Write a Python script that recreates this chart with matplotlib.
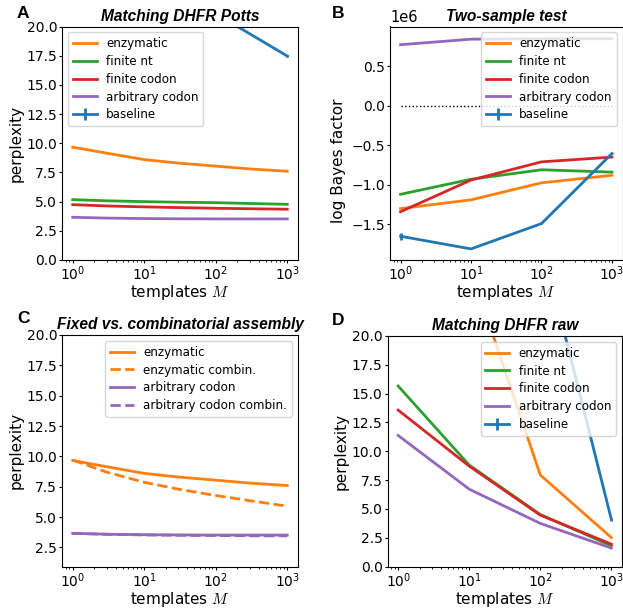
import matplotlib
matplotlib.use("Agg")
import matplotlib.pyplot as plt
import numpy as np

plt.rcParams['mathtext.fontset'] = 'custom'
plt.rcParams['mathtext.rm'] = 'DejaVu Sans'
plt.rcParams['mathtext.it'] = 'cmmi10'
plt.rcParams['mathtext.bf'] = 'DejaVu Sans:bold'

C_ENZ = '#ff7f0e'
C_NT = '#2ca02c'
C_COD = '#d62728'
C_ARB = '#9467bd'
C_BASE = '#1f77b4'

# ---- Panel A: Matching DHFR Potts ----
M_fine = [1, 3, 10, 30, 100, 300, 1000]
A_enzymatic = [9.66, 9.15, 8.6, 8.3, 8.04, 7.8, 7.6]
A_finite_nt = [5.17, 5.07, 5.0, 4.95, 4.91, 4.84, 4.77]
A_finite_codon = [4.74, 4.63, 4.55, 4.49, 4.43, 4.39, 4.35]
A_arbitrary = [3.66, 3.59, 3.55, 3.53, 3.52, 3.52, 3.52]
M_dec = [1, 10, 100, 1000]
A_baseline = [40.0, 28.0, 21.1, 17.47]
A_baseline_err = [0.3, 0.3, 0.2, 0.1]

# ---- Panel B: Two-sample test (log Bayes factor, x1e6) ----
B_enzymatic = [-1.30, -1.19, -0.975, -0.88]
B_finite_nt = [-1.12, -0.93, -0.81, -0.84]
B_finite_codon = [-1.34, -0.94, -0.71, -0.65]
B_arbitrary = [0.77, 0.84, 0.845, 0.845]
B_baseline = [-1.65, -1.81, -1.49, -0.605]
B_baseline_err = [0.045, 0.005, 0.005, 0.005]

# ---- Panel C: Fixed vs combinatorial ----
C_enzymatic = A_enzymatic
C_enzymatic_comb = [9.7, 8.7, 7.87, 7.3, 6.78, 6.35, 5.9]
C_arbitrary = A_arbitrary
C_arbitrary_comb = [3.66, 3.58, 3.53, 3.5, 3.48, 3.46, 3.45]

# ---- Panel D: Matching DHFR raw ----
D_enzymatic = [60.0, 26.2, 7.94, 2.51]
D_finite_nt = [15.66, 8.8, 4.51, 1.8]
D_finite_codon = [13.57, 8.71, 4.46, 1.94]
D_arbitrary = [11.37, 6.71, 3.74, 1.6]
D_baseline = [60.0, 45.0, 28.6, 4.09]
D_baseline_err = [0.3, 0.3, 0.3, 0.1]

W, H = 623, 608
fig = plt.figure(figsize=(W / 100, H / 100), dpi=100)

def add_ax(l, t, r, b):
    return fig.add_axes([l / W, 1 - b / H, (r - l) / W, (b - t) / H])

axA = add_ax(62, 26.5, 298, 260)
axB = add_ax(390, 26.5, 622.5, 260)
axC = add_ax(62, 335, 298, 566.5)
axD = add_ax(387.5, 336, 622, 566.5)

LW = 2.0
TFS = 11.2
LFS = 11
TKS = 10
LEGFS = 8.6

def style(ax, title, ylabel, xpad=0):
    ax.set_xscale('log')
    ax.set_xlim(10 ** -0.15, 10 ** 3.15)
    ax.set_xticks([1, 10, 100, 1000])
    ax.set_title(title, fontsize=TFS, fontweight='bold', fontstyle='italic',
                 family='Liberation Sans', pad=4)
    ax.set_xlabel('templates $M$', fontsize=LFS, labelpad=xpad)
    ax.set_ylabel(ylabel, fontsize=LFS, labelpad=2)
    ax.tick_params(which='major', labelsize=TKS, length=2.2, pad=1.3)
    ax.tick_params(which='minor', length=1.3)

def legend(ax, loc):
    ax.legend(loc=loc, fontsize=LEGFS, labelspacing=0.4)

# A
axA.plot(M_fine, A_enzymatic, color=C_ENZ, lw=LW, label='enzymatic')
axA.plot(M_fine, A_finite_nt, color=C_NT, lw=LW, label='finite nt')
axA.plot(M_fine, A_finite_codon, color=C_COD, lw=LW, label='finite codon')
axA.plot(M_fine, A_arbitrary, color=C_ARB, lw=LW, label='arbitrary codon')
axA.errorbar(M_dec, A_baseline, yerr=A_baseline_err, color=C_BASE, lw=LW, label='baseline')
axA.set_ylim(0, 20)
axA.set_yticks(np.arange(0, 20.1, 2.5))
style(axA, 'Matching DHFR Potts', 'perplexity')
legend(axA, 'upper left')

# B
scale = 1e6
axB.plot(M_dec, np.array(B_enzymatic) * scale, color=C_ENZ, lw=LW, label='enzymatic')
axB.plot(M_dec, np.array(B_finite_nt) * scale, color=C_NT, lw=LW, label='finite nt')
axB.plot(M_dec, np.array(B_finite_codon) * scale, color=C_COD, lw=LW, label='finite codon')
axB.plot(M_dec, np.array(B_arbitrary) * scale, color=C_ARB, lw=LW, label='arbitrary codon')
axB.errorbar(M_dec, np.array(B_baseline) * scale, yerr=np.array(B_baseline_err) * scale,
             color=C_BASE, lw=LW, label='baseline')
axB.plot([1, 1000], [0, 0], color='black', lw=1, ls=':')
axB.set_ylim(-1.95e6, 1.0e6)
axB.set_yticks([-1.5e6, -1.0e6, -0.5e6, 0, 0.5e6])
style(axB, 'Two-sample test', 'log Bayes factor')
axB.yaxis.set_label_coords(-0.19, 0.427)
axB.yaxis.get_offset_text().set_fontsize(10.5)
legend(axB, 'upper right')

# C
axC.plot(M_fine, C_enzymatic, color=C_ENZ, lw=LW, label='enzymatic')
axC.plot(M_fine, C_enzymatic_comb, color=C_ENZ, lw=LW, ls='--', label='enzymatic combin.')
axC.plot(M_fine, C_arbitrary, color=C_ARB, lw=LW, label='arbitrary codon')
axC.plot(M_fine, C_arbitrary_comb, color=C_ARB, lw=LW, ls='--', label='arbitrary codon combin.')
axC.set_ylim(0.93, 20)
axC.set_yticks(np.arange(2.5, 20.1, 2.5))
style(axC, 'Fixed vs. combinatorial assembly', 'perplexity')
legend(axC, 'upper right')

# D
axD.plot(M_dec, D_enzymatic, color=C_ENZ, lw=LW, label='enzymatic')
axD.plot(M_dec, D_finite_nt, color=C_NT, lw=LW, label='finite nt')
axD.plot(M_dec, D_finite_codon, color=C_COD, lw=LW, label='finite codon')
axD.plot(M_dec, D_arbitrary, color=C_ARB, lw=LW, label='arbitrary codon')
axD.errorbar(M_dec, D_baseline, yerr=D_baseline_err, color=C_BASE, lw=LW, label='baseline')
axD.set_ylim(0, 20)
axD.set_yticks(np.arange(0, 20.1, 2.5))
style(axD, 'Matching DHFR raw', 'perplexity')
legend(axD, 'upper right')

for lab, x, y in [('A', 17, 6), ('B', 332, 6), ('C', 17, 311), ('D', 332, 313)]:
    fig.text(x / W, 1 - y / H, lab, fontsize=12.5, fontweight='bold',
             family='Liberation Sans', va='top', ha='left')

fig.savefig('out.png', dpi=100)
